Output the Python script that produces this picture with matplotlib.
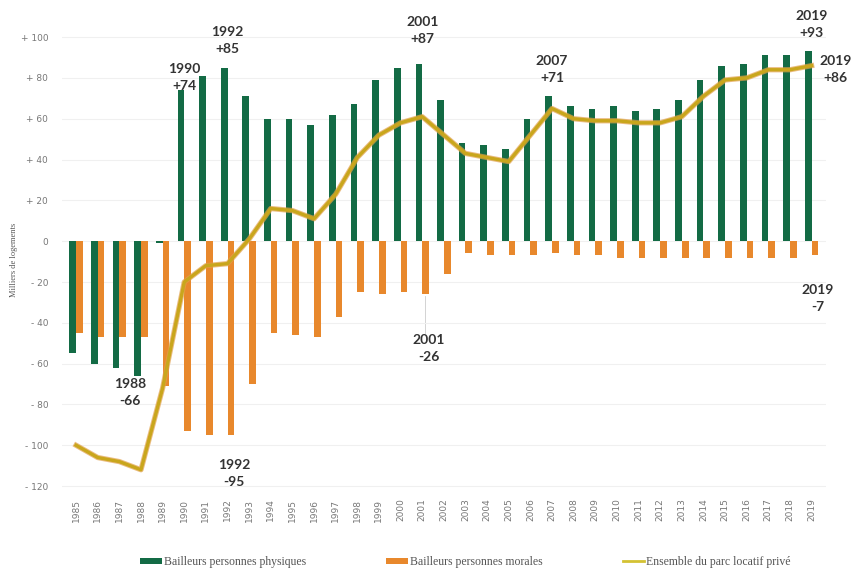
import matplotlib
matplotlib.use("Agg")
import matplotlib.pyplot as plt
import matplotlib.patheffects as pe
import numpy as np

years = list(range(1985, 2020))

# milliers de logements
physiques = [-55, -60, -62, -66, -1, 74, 81, 85, 71, 60, 60, 57, 62, 67, 79, 85, 87, 69,
             48, 47, 45, 60, 71, 66, 65, 66, 64, 65, 69, 79, 86, 87, 91, 91, 93]
morales = [-45, -47, -47, -47, -71, -93, -95, -95, -70, -45, -46, -47, -37, -25, -26, -25, -26, -16,
           -6, -7, -7, -7, -6, -7, -7, -8, -8, -8, -8, -8, -8, -8, -8, -8, -7]
ensemble = [-100, -106, -108, -112, -72, -20, -12, -11, 1, 16, 15, 11, 23, 41, 52, 58, 61, 52,
            43, 41, 39, 52, 65, 60, 59, 59, 58, 58, 61, 71, 79, 80, 84, 84, 86]

yticks = [100, 80, 60, 40, 20, 0, -20, -40, -60, -80, -100, -120]
ytick_labels = ["+ 100", "+ 80", "+ 60", "+ 40", "+ 20", "0",
                "- 20", "- 40", "- 60", "- 80", "- 100", "- 120"]

# (text, x index, y) callouts
callouts = [
    ("1990\n+74", 5, 80), ("1992\n+85", 7, 98.5), ("2001\n+87", 16, 103),
    ("2007\n+71", 22, 84), ("2019\n+93", 34, 106), ("2019\n+86", 35.1, 84),
    ("1988\n-66", 2.5, -74), ("1992\n-95", 7.3, -114), ("2001\n-26", 16.3, -52.5),
    ("2019\n-7", 34.3, -28),
]

green = "#136b45"
orange = "#e8882c"
gold = "#c9a61c"

fig = plt.figure(figsize=(8.59, 5.76), dpi=100)
ax = fig.add_axes([0.0722, 0.149, 0.889, 0.799])

x = np.arange(len(years))
w = 0.31
b1 = ax.bar(x - w / 2, physiques, width=w, color=green, label="Bailleurs personnes physiques", zorder=2)
b2 = ax.bar(x + w / 2, morales, width=w, color=orange, label="Bailleurs personnes morales", zorder=2)
ln, = ax.plot(x, ensemble, color=gold, lw=2.4, label="Ensemble du parc locatif privé", zorder=3,
              path_effects=[pe.Stroke(linewidth=3.8, foreground="#e2a04a", alpha=0.7), pe.Normal()])

# leader line for 2001 -26
ax.plot([16.15, 16.15], [-27, -45], color="#cccccc", lw=0.6, zorder=1)

ax.set_xlim(-0.65, 34.65)
ax.set_ylim(-122, 103.5)
ax.set_yticks(yticks)
ax.set_yticklabels(ytick_labels)
ax.set_xticks(x)
ax.set_xticklabels([str(y) for y in years], rotation=90)
ax.tick_params(axis="both", length=0, labelsize=6.5, labelcolor="#777777")
ax.tick_params(axis="y", pad=10)
ax.tick_params(axis="x", pad=6)
for s in ax.spines.values():
    s.set_visible(False)
ax.grid(axis="y", color="#f0f0f0", lw=0.8, zorder=0)
ax.set_ylabel("Milliers de logements", fontsize=6, family="Liberation Serif", color="#555555", labelpad=2)

for txt, tx, ty in callouts:
    ax.text(tx, ty, txt, ha="center", va="center", fontsize=10, fontweight="bold",
            family="Lato", color="#333333", linespacing=1.5, clip_on=False, zorder=4)

leg_line = plt.Line2D([], [], color="#d4c233", lw=2)
fig.legend([b1, b2, leg_line], [b1.get_label(), b2.get_label(), ln.get_label()],
           loc="lower center", bbox_to_anchor=(0.542, -0.005), ncol=3, frameon=False,
           prop={"family": "Liberation Serif", "size": 8.5}, columnspacing=6.8,
           handlelength=1.8, handleheight=0.5, handletextpad=0.2, labelcolor="#555555")

fig.savefig("out.png", dpi=100)
